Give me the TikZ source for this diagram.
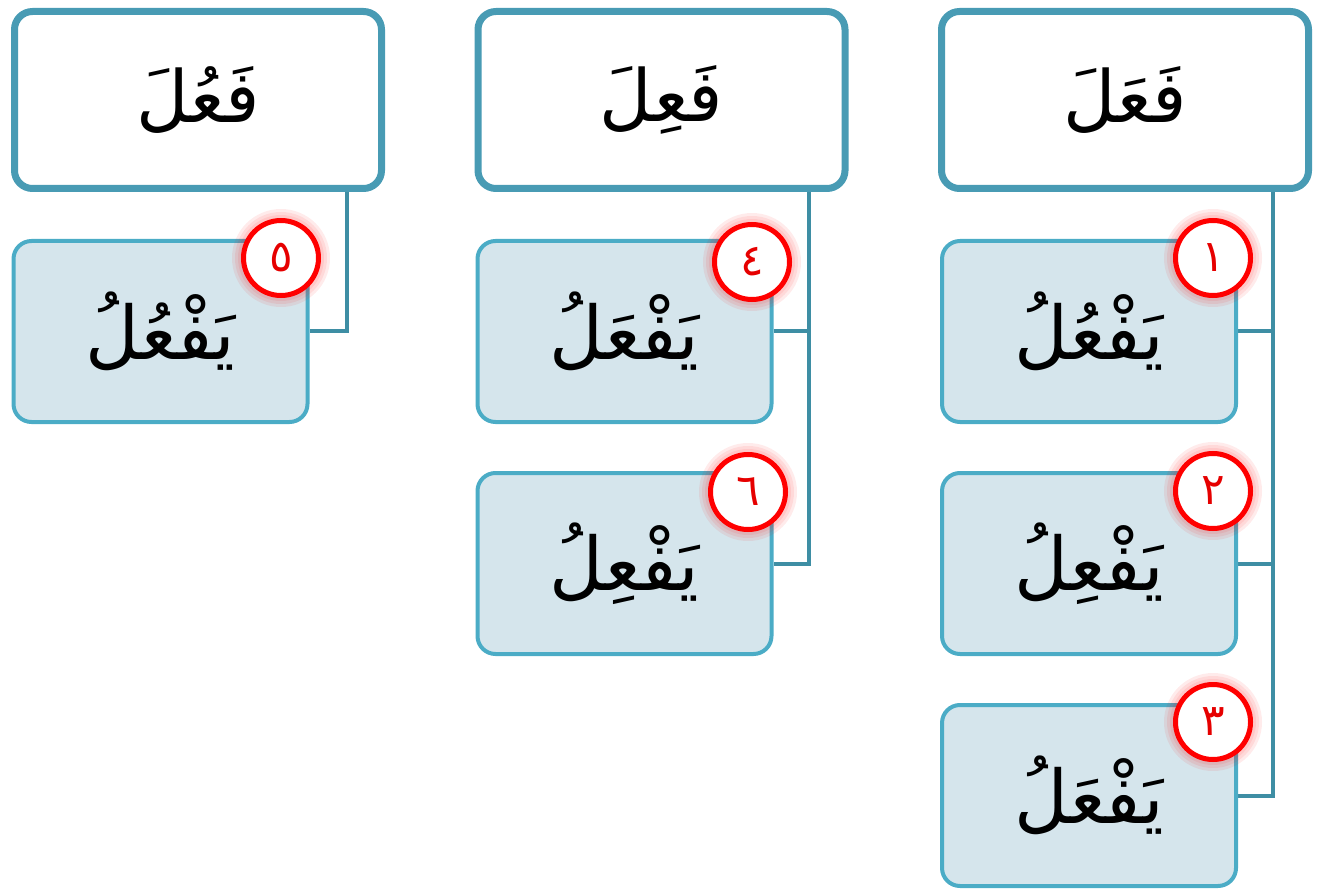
\documentclass[tikz,border=0pt]{standalone}
\usepackage{fontspec}
\newfontfamily\arabicfont[Script=Arabic]{DejaVu Sans}
\TeXXeTstate=1
\usetikzlibrary{backgrounds}
\definecolor{hdrborder}{RGB}{72,155,180}
\definecolor{chborder}{RGB}{75,172,198}
\definecolor{chfill}{RGB}{213,229,236}
\definecolor{conn}{RGB}{62,142,164}
\definecolor{numred}{RGB}{230,0,0}
\tikzset{
  hdr/.style={draw=hdrborder, line width=7pt, rounded corners=18pt, fill=white,
    minimum width=367pt, minimum height=177pt, inner sep=0pt,
    font=\arabicfont\fontsize{72}{80}\selectfont},
  child/.style={draw=chborder, line width=4pt, rounded corners=18pt, fill=chfill,
    minimum width=294pt, minimum height=181pt, inner sep=0pt,
    font=\arabicfont\fontsize{74}{80}\selectfont},
  num/.style={circle, draw=red, line width=5pt, fill=white, minimum size=75pt, inner sep=0pt,
    text=numred, font=\arabicfont\fontsize{44}{48}\selectfont},
  link/.style={draw=conn, line width=4pt},
}
\newcommand{\glowat}[1]{%
  \foreach \r in {49,46,43,40} {\fill[red, opacity=0.08] (#1) circle (\r pt);}%
}
\begin{document}
\begin{tikzpicture}[x=1pt,y=-1pt]
\useasboundingbox (0,0) rectangle (1327,890);
% headers
\node[hdr] (h1) at (1125,100) {\beginR فَعَلَ\endR};
\node[hdr] (h2) at (661.5,100) {\beginR فَعِلَ\endR};
\node[hdr] (h3) at (198,100) {\beginR فَعُلَ\endR};
% children
\node[child] (c1) at (1089,331.5) {\raisebox{-8pt}{\beginR يَفْعُلُ\endR}};
\node[child] (c2) at (1089,563.5) {\raisebox{-8pt}{\beginR يَفْعِلُ\endR}};
\node[child] (c3) at (1089,795.5) {\raisebox{-8pt}{\beginR يَفْعَلُ\endR}};
\node[child] (c4) at (624.5,331.5) {\raisebox{-8pt}{\beginR يَفْعَلُ\endR}};
\node[child] (c6) at (624.5,563.5) {\raisebox{-8pt}{\beginR يَفْعِلُ\endR}};
\node[child] (c5) at (160.5,331.5) {\raisebox{-8pt}{\beginR يَفْعُلُ\endR}};
% connectors
\coordinate (t1) at (1273,192);
\coordinate (t2) at (809,192);
\coordinate (t3) at (347,192);
\begin{scope}[on background layer]
\draw[link] (t1) |- (c3.east);
\draw[link] (c1.east) -- (c1.east -| t1);
\draw[link] (c2.east) -- (c2.east -| t1);
\draw[link] (t2) |- (c6.east);
\draw[link] (c4.east) -- (c4.east -| t2);
\draw[link] (t3) |- (c5.east);
\end{scope}
% number circles
\glowat{1213,258}
\node[num] (n1) at (1213,258) {\beginR ١\endR};
\glowat{1213,491}
\node[num] (n2) at (1213,491) {\beginR ٢\endR};
\glowat{1213,722}
\node[num] (n3) at (1213,722) {\beginR ٣\endR};
\glowat{752,262}
\node[num] (n4) at (752,262) {\beginR ٤\endR};
\glowat{748,492}
\node[num] (n6) at (748,492) {\beginR ٦\endR};
\glowat{281,258}
\node[num] (n5) at (281,258) {\beginR ٥\endR};
\end{tikzpicture}
\end{document}
